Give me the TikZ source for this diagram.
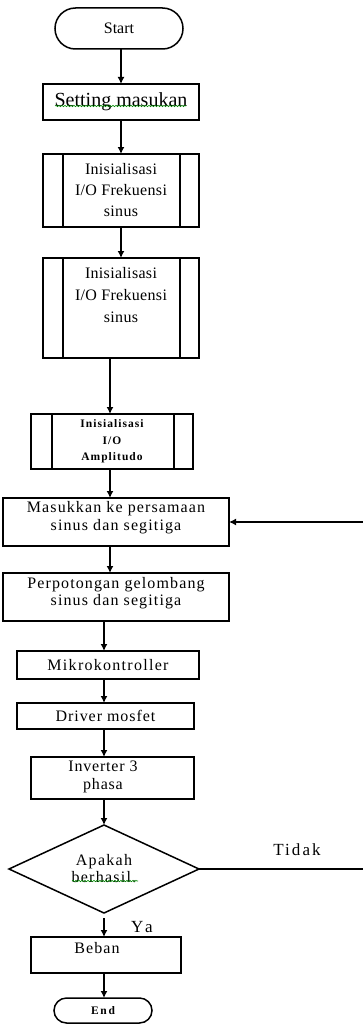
\documentclass[tikz,border=0pt]{standalone}
\usepackage{fontspec}
\setmainfont{Liberation Serif}
\usetikzlibrary{shapes.misc,shapes.geometric,arrows.meta,decorations.pathmorphing}
\begin{document}
\begin{tikzpicture}[x=1pt,y=-1pt,
  line/.style={line width=1.5pt},
  arr/.style={line width=1.5pt,-{Latex[length=7pt,width=7pt]}},
  box/.style={draw,line width=1.5pt,rectangle,inner sep=0pt,outer sep=0pt,align=center},
  term/.style={draw,line width=1.5pt,rounded rectangle,inner sep=0pt,outer sep=0pt},
  decide/.style={draw,line width=1.5pt,diamond,aspect=2.16,inner sep=0pt,outer sep=0pt,align=center},
  lbl/.style={inner sep=0pt,align=center},
  wavy/.style={draw=green!55!black,line width=0.6pt,decorate,decoration={snake,amplitude=0.7pt,segment length=3pt}}
]
\useasboundingbox (0,0) rectangle (363,1030);
\fill[white] (0,0) rectangle (363,1030);

\coordinate (cA) at (121,0);
\coordinate (cB) at (110,0);
\coordinate (cC) at (104,0);
\coordinate (fb) at (365,0);

% nodes
\node[term,minimum width=128pt,minimum height=41pt,font={\fontsize{16}{19}\selectfont}] (start) at (119,28.5) {Start};
\node[box,minimum width=156pt,minimum height=36pt,font={\fontsize{20}{24}\selectfont}] (set) at (121,102) {Setting masukan};

\node[box,minimum width=156pt,minimum height=73pt,font={\fontsize{16}{21}\selectfont\addfontfeature{LetterSpace=2}}] (sp1) at (121,190.5) {Inisialisasi\\I/O Frekuensi\\sinus};

\node[box,minimum width=156pt,minimum height=100pt] (sp2) at (121,308) {};
\node[lbl,font={\fontsize{16}{22}\selectfont\addfontfeature{LetterSpace=2}}] (t2) at (121,295) {Inisialisasi\\I/O Frekuensi\\sinus};

\node[box,minimum width=162pt,minimum height=55pt,font={\fontsize{11.5}{16.5}\selectfont\bfseries\addfontfeature{LetterSpace=9}}] (sp3) at (112,441.5) {Inisialisasi\\I/O\\Amplitudo};

\node[box,minimum width=226pt,minimum height=48pt] (eq) at (116,522) {};
\node[lbl,font={\fontsize{16}{18}\selectfont\addfontfeature{LetterSpace=7}}] (te) at (116,518) {Masukkan ke persamaan\\sinus dan segitiga};

\node[box,minimum width=226pt,minimum height=48pt] (cut) at (116,597) {};
\node[lbl,font={\fontsize{16}{17}\selectfont\addfontfeature{LetterSpace=7}}] (tc) at (116,593.5) {Perpotongan gelombang\\sinus dan segitiga};

\node[box,minimum width=182pt,minimum height=28pt,font={\fontsize{16}{18}\selectfont\addfontfeature{LetterSpace=8}}] (mk) at (108,665) {Mikrokontroller};

\node[box,minimum width=177pt,minimum height=26pt,font={\fontsize{16}{18}\selectfont\addfontfeature{LetterSpace=6}}] (drv) at (105.5,716) {Driver mosfet};

\node[box,minimum width=163pt,minimum height=42pt] (inv) at (112.5,778) {};
\node[lbl,font={\fontsize{16}{18}\selectfont\addfontfeature{LetterSpace=5}}] (ti) at (103,777) {Inverter 3\\phasa};

\node[decide,minimum width=190pt,minimum height=88pt,font={\fontsize{16}{17}\selectfont\addfontfeature{LetterSpace=8}}] (dec) at (104,869) {Apakah\\berhasil.};

\node[box,minimum width=150pt,minimum height=36pt] (beb) at (106,955) {};
\node[lbl,font={\fontsize{16}{18}\selectfont\addfontfeature{LetterSpace=7}}] (tb) at (97,948) {Beban};

\node[term,minimum width=98pt,minimum height=25pt,font={\fontsize{11.5}{13}\selectfont\bfseries\addfontfeature{LetterSpace=15}}] (end) at (103,1010.5) {End};

\node[lbl,font={\fontsize{17}{19}\selectfont\addfontfeature{LetterSpace=12}}] (tidak) at (297,850) {Tidak};
\node[lbl,font={\fontsize{17}{19}\selectfont\addfontfeature{LetterSpace=20}}] (ya) at (142,927) {Ya};

% predefined process side bars
\draw[line] ([xshift=20pt]sp1.north west) -- ([xshift=20pt]sp1.south west)
            ([xshift=-19pt]sp1.north east) -- ([xshift=-19pt]sp1.south east);
\draw[line] ([xshift=20pt]sp2.north west) -- ([xshift=20pt]sp2.south west)
            ([xshift=-19pt]sp2.north east) -- ([xshift=-19pt]sp2.south east);
\draw[line] ([xshift=21pt]sp3.north west) -- ([xshift=21pt]sp3.south west)
            ([xshift=-19pt]sp3.north east) -- ([xshift=-19pt]sp3.south east);

% connectors
\draw[arr] (start.south -| cA) -- (set.north -| cA);
\draw[arr] (set.south -| cA) -- (sp1.north -| cA);
\draw[arr] (sp1.south -| cA) -- (sp2.north -| cA);
\draw[arr] (sp2.south -| cB) -- (sp3.north -| cB);
\draw[arr] (sp3.south -| cB) -- (eq.north -| cB);
\draw[arr] (eq.south -| cB) -- (cut.north -| cB);
\draw[arr] (cut.south -| cC) -- (mk.north -| cC);
\draw[arr] (mk.south -| cC) -- (drv.north -| cC);
\draw[arr] (drv.south -| cC) -- (inv.north -| cC);
\draw[arr] (inv.south -| cC) -- (dec.north);
\draw[arr] ([yshift=-5pt]dec.south) -- (beb.north -| cC);
\draw[arr] (beb.south -| cC) -- (end.north -| cC);
\draw[arr] (dec.east) -- (dec.east -| fb) |- (eq.east);

% spell-check underlines
\draw[wavy] (55,106) -- (186,106);
\draw[wavy] (72,881) -- (138,881);
\end{tikzpicture}
\end{document}
